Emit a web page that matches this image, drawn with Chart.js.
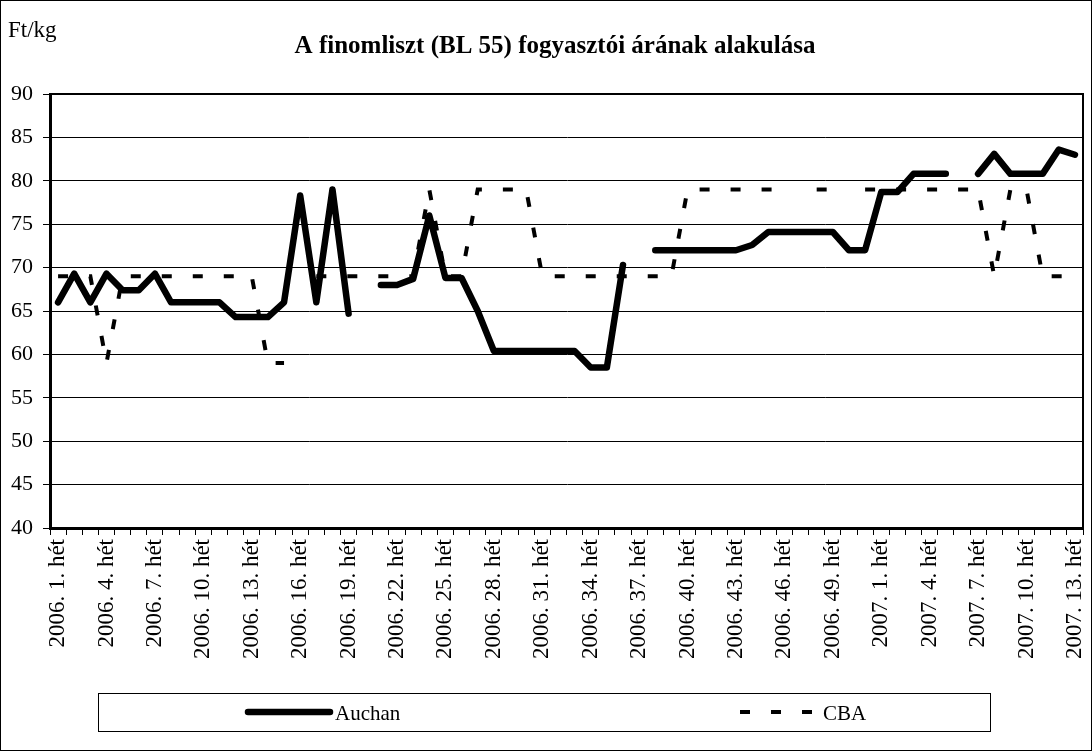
<!DOCTYPE html>
<html>
<head>
<meta charset="utf-8">
<script src="https://cdn.jsdelivr.net/npm/chart.js@4.4.0/dist/chart.umd.min.js"></script>
<style>
  html, body { margin: 0; padding: 0; background: #fff; }
  #wrap { width: 1092px; height: 751px; }
</style>
</head>
<body>
<div id="wrap"><canvas id="priceChart" width="1092" height="751"></canvas></div>
<script>
// weeks shown per year (2006: 1..51, 2007: 1..13)
const years = [2006, 2007];
const weekCounts = [51, 13];

// Ft/kg (null = no data that week)
const auchan = [
  66, 69.3, 66, 69.3, 67.4, 67.4, 69.3, 66, 66, 66,
  66, 64.3, 64.3, 64.3, 66, 78.3, 66, 79, 64.7, null,
  68, 68, 68.7, 76, 68.8, 68.8, 65, 60.4, 60.4, 60.4,
  60.4, 60.4, 60.4, 58.5, 58.5, 70.3, null, 72, 72, 72,
  72, 72, 72, 72.6, 74.1, 74.1, 74.1, 74.1, 74.1, 72,
  72, 78.7, 78.7, 80.8, 80.8, 80.8, null, 80.8, 83.1, 80.8,
  80.8, 80.8, 83.6, 83
];
const cba = [
  69, 69, 69, 59, 69, 69, 69, 69, 69, 69,
  69, 69, 69, 59, 59, null, 69, 69, 69, 69,
  69, 69, 69, 79, 69, 69, 79, 79, 79, 79,
  69, 69, 69, 69, 69, 69, 69, 69, 69, 79,
  79, 79, 79, 79, 79, 79, null, 79, 79, null,
  79, 79, 79, 79, 79, 79, 79, 79, 69, 79,
  79, 69, 69, 69
];

const yMin = 40;
const yMax = 90;
const yStep = 5;
const labelEvery = 3;

const chartTitle = 'A finomliszt (BL 55) fogyasztói árának alakulása';
const unitText = 'Ft/kg';

const categories = [];
years.forEach((yr, k) => {
  for (let w = 1; w <= weekCounts[k]; w++) categories.push(yr + '. ' + w + '. hét');
});

const serif = "'Liberation Serif', 'Times New Roman', serif";
Chart.defaults.font.family = serif;
Chart.defaults.color = '#000';

// frame, title, unit text and the boxed legend
const decorations = {
  id: 'decorations',
  beforeDatasetsDraw(chart) {
    const { ctx, chartArea: a } = chart;
    ctx.save();
    ctx.strokeStyle = '#000';
    ctx.lineWidth = 2;
    ctx.beginPath();
    ctx.moveTo(a.left, a.top);
    ctx.lineTo(a.right, a.top);
    ctx.lineTo(a.right, a.bottom);
    ctx.stroke();
    ctx.restore();
  },
  afterDraw(chart) {
    const { ctx, width, height } = chart;
    ctx.save();
    ctx.strokeStyle = '#000';
    ctx.lineWidth = 1;
    ctx.strokeRect(0.5, 0.5, width - 1, height - 1);

    ctx.fillStyle = '#000';
    ctx.textBaseline = 'alphabetic';

    ctx.font = 'bold 25px ' + serif;
    ctx.textAlign = 'center';
    ctx.fillText(chartTitle, 555, 53);

    ctx.font = '23px ' + serif;
    ctx.textAlign = 'left';
    ctx.fillText(unitText, 8, 37);

    // legend
    ctx.strokeRect(98.5, 693.5, 892, 38);
    const items = [
      { ds: chart.data.datasets[0], x0: 248, x1: 330 },
      { ds: chart.data.datasets[1], x0: 740, x1: 818 }
    ];
    ctx.font = '21px ' + serif;
    items.forEach(it => {
      ctx.save();
      ctx.strokeStyle = it.ds.borderColor;
      ctx.lineWidth = it.ds.borderWidth;
      ctx.lineCap = it.ds.borderCapStyle || 'butt';
      ctx.setLineDash(it.ds.borderDash || []);
      ctx.beginPath();
      ctx.moveTo(it.x0, 712);
      ctx.lineTo(it.x1, 712);
      ctx.stroke();
      ctx.restore();
      ctx.fillText(it.ds.label, it.x1 + 5, 720);
    });
    ctx.restore();
  }
};

new Chart(document.getElementById('priceChart'), {
  type: 'line',
  data: {
    labels: categories,
    datasets: [
      {
        label: 'Auchan',
        data: auchan,
        borderColor: '#000',
        borderWidth: 6.5,
        borderCapStyle: 'round',
        borderJoinStyle: 'round',
        pointRadius: 0,
        tension: 0,
        spanGaps: false
      },
      {
        label: 'CBA',
        data: cba,
        borderColor: '#000',
        borderWidth: 4,
        borderDash: [10, 21],
        borderCapStyle: 'butt',
        pointRadius: 0,
        tension: 0,
        spanGaps: false
      }
    ]
  },
  options: {
    responsive: false,
    animation: false,
    layout: { padding: { left: 0, right: 9, top: 94, bottom: 71 } },
    plugins: {
      legend: { display: false },
      tooltip: { enabled: false },
      title: { display: false }
    },
    scales: {
      x: {
        offset: true,
        grid: {
          offset: true,
          drawOnChartArea: false,
          tickLength: 7,
          tickColor: '#000',
          lineWidth: 1
        },
        border: { color: '#000', width: 3 },
        ticks: {
          autoSkip: false,
          minRotation: 90,
          maxRotation: 90,
          padding: 4,
          color: '#000',
          font: { size: 23 },
          callback: function (value, index) {
            return index % labelEvery === 0 ? this.getLabelForValue(value) : '';
          }
        },
        afterFit: (scale) => {
          scale.height = 152;
          scale.paddingLeft = 0;
          scale.paddingRight = 0;
        }
      },
      y: {
        min: yMin,
        max: yMax,
        grid: { color: '#000', lineWidth: 1, tickLength: 7, tickColor: '#000' },
        border: { color: '#000', width: 3 },
        ticks: {
          stepSize: yStep,
          padding: 10,
          color: '#000',
          font: { size: 22 }
        },
        afterFit: (scale) => { scale.width = 50; }
      }
    }
  },
  plugins: [decorations]
});
</script>
</body>
</html>
